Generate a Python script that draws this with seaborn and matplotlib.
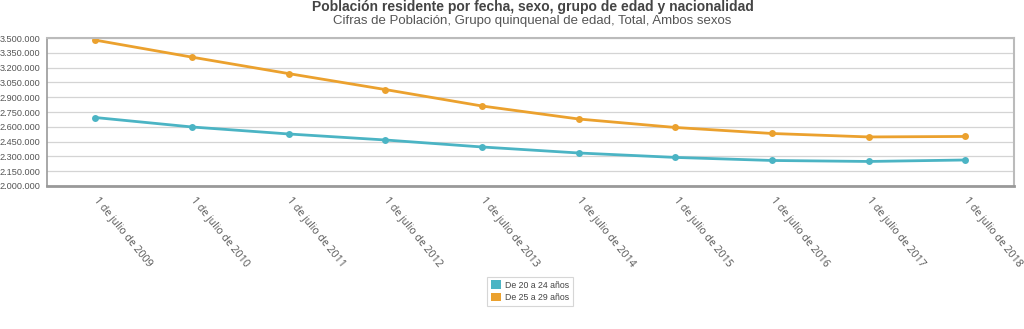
import matplotlib
matplotlib.use("Agg")
import matplotlib.pyplot as plt
import seaborn as sns
import pandas as pd
from matplotlib.ticker import FuncFormatter, FixedLocator
from matplotlib.patches import Patch

categories = ["1 de julio de 2009", "1 de julio de 2010", "1 de julio de 2011",
              "1 de julio de 2012", "1 de julio de 2013", "1 de julio de 2014",
              "1 de julio de 2015", "1 de julio de 2016", "1 de julio de 2017",
              "1 de julio de 2018"]
serie_20_24 = [2694000, 2598000, 2527000, 2466000, 2395000, 2334000,
               2289000, 2258000, 2248000, 2263000]
serie_25_29 = [3480000, 3307000, 3140000, 2978000, 2811000, 2679000,
               2593000, 2532000, 2497000, 2502000]
series_names = ["De 20 a 24 años", "De 25 a 29 años"]
y_ticks = [2000000, 2150000, 2300000, 2450000, 2600000, 2750000,
           2900000, 3050000, 3200000, 3350000, 3500000]

colors = ["#4bb4c4", "#eba12e"]

df = pd.DataFrame({
    "x": list(range(len(categories))) * 2,
    "valor": serie_20_24 + serie_25_29,
    "serie": [series_names[0]] * len(categories) + [series_names[1]] * len(categories),
})

sns.set_style("white")
plt.rcParams['font.family'] = ['Liberation Sans', 'DejaVu Sans']

fig = plt.figure(figsize=(10.24, 3.29), dpi=100)
ax = fig.add_axes([0.046, 0.435, 0.944, 0.449])

sns.lineplot(data=df, x="x", y="valor", hue="serie", palette=colors,
             marker="o", markersize=5, markeredgewidth=0, linewidth=2,
             legend=False, ax=ax)

ax.set_xlim(-0.5, len(categories) - 0.5)
ax.set_ylim(2000000, 3500000)
ax.yaxis.set_major_locator(FixedLocator(y_ticks))
ax.yaxis.set_major_formatter(FuncFormatter(lambda v, p: f"{int(v):,}".replace(",", ".")))
ax.grid(axis="y", color="#d4d4d4", linewidth=0.9)
ax.set_axisbelow(True)

ax.set_xticks(range(len(categories)))
ax.set_xticklabels(categories, rotation=-51, ha="left", va="center",
                   rotation_mode="anchor", fontsize=7.6, color="#555555",
                   family=["Open Sans", "DejaVu Sans"])
ax.set_xticks([i + 0.5 for i in range(len(categories) - 1)], minor=True)
ax.tick_params(axis="x", which="major", length=5, color="#999999", pad=4)
ax.tick_params(axis="x", which="minor", length=3, color="#bbbbbb")
ax.tick_params(axis="y", length=4, color="#999999", labelsize=6.6, labelcolor="#555555", pad=1)
ax.set_xlabel("")
ax.set_ylabel("")

for s in ["top", "right"]:
    ax.spines[s].set_color("#bbbbbb")
    ax.spines[s].set_linewidth(1.5)
ax.spines["left"].set_color("#999999")
ax.spines["left"].set_linewidth(1.2)
ax.spines["bottom"].set_color("#999999")
ax.spines["bottom"].set_linewidth(2)

fig.text(0.52, 0.979, "Población residente por fecha, sexo, grupo de edad y nacionalidad",
         ha="center", va="center", fontsize=10, fontweight="bold", color="#444444")
fig.text(0.52, 0.935, "Cifras de Población, Grupo quinquenal de edad, Total, Ambos sexos",
         ha="center", va="center", fontsize=9.5, color="#555555")

handles = [Patch(facecolor=c, edgecolor="none") for c in colors]
leg = fig.legend(handles, series_names, loc="center", bbox_to_anchor=(0.518, 0.115),
                 fontsize=6.3, frameon=True, handlelength=1.1, handleheight=1.1,
                 handletextpad=0.5, borderpad=0.45, labelspacing=0.35, fancybox=False)
leg.get_frame().set_edgecolor("#cccccc")
leg.get_frame().set_linewidth(0.8)
for t in leg.get_texts():
    t.set_color("#444444")

fig.savefig("out.png", dpi=100)
